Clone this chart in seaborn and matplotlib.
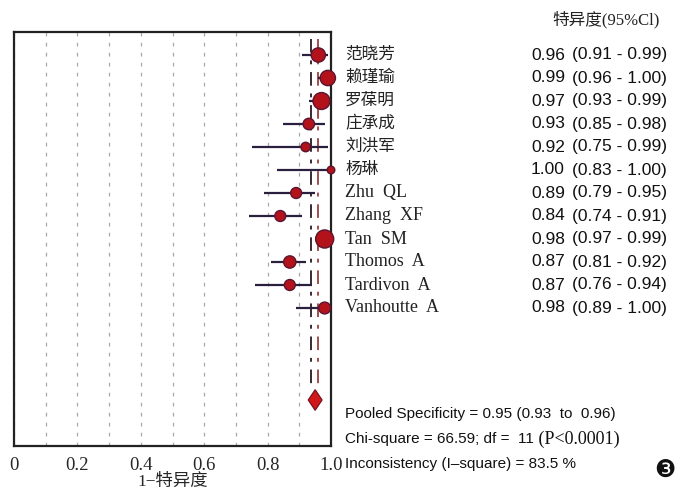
import numpy as np
import pandas as pd
import matplotlib
matplotlib.use("Agg")
import matplotlib.pyplot as plt
import matplotlib.transforms as mtransforms
import seaborn as sns

# ---------------- data ----------------
studies = ["范晓芳", "赖瑾瑜", "罗葆明", "庄承成", "刘洪军", "杨琳",
           "Zhu  QL", "Zhang  XF", "Tan  SM", "Thomos  A", "Tardivon  A", "Vanhoutte  A"]
spec = [0.96, 0.99, 0.97, 0.93, 0.92, 1.00, 0.89, 0.84, 0.98, 0.87, 0.87, 0.98]
ci_low = [0.91, 0.96, 0.93, 0.85, 0.75, 0.83, 0.79, 0.74, 0.97, 0.81, 0.76, 0.89]
ci_high = [0.99, 1.00, 0.99, 0.98, 0.99, 1.00, 0.95, 0.91, 0.99, 0.92, 0.94, 1.00]
spec_txt = ["0.96", "0.99", "0.97", "0.93", "0.92", "1.00", "0.89", "0.84", "0.98", "0.87", "0.87", "0.98"]
ci_txt = ["(0.91 - 0.99)", "(0.96 - 1.00)", "(0.93 - 0.99)", "(0.85 - 0.98)", "(0.75 - 0.99)",
          "(0.83 - 1.00)", "(0.79 - 0.95)", "(0.74 - 0.91)", "(0.97 - 0.99)", "(0.81 - 0.92)",
          "(0.76 - 0.94)", "(0.89 - 1.00)"]
weights = [11.0, 12.5, 15.0, 7.5, 5.5, 4.0, 7.0, 7.0, 17.0, 8.5, 7.0, 8.0]
pooled = 0.95
pooled_low = 0.93
pooled_high = 0.96
xticks = [0, 0.2, 0.4, 0.6, 0.8, 1.0]
xticklabels = ["0", "0.2", "0.4", "0.6", "0.8", "1.0"]
header = "特异度(95%Cl)"
xlabel = "1−特异度"
stats_lines = ["Pooled Specificity = 0.95 (0.93  to  0.96)",
               "Chi-square = 66.59; df =  11",
               "Inconsistency (I–square) = 83.5 %"]
p_text = " (P<0.0001)"

rows = list(range(1, len(studies) + 1))
pooled_row = 16
df = pd.DataFrame({"study": studies, "spec": spec, "lo": ci_low, "hi": ci_high,
                   "row": rows, "w": weights})

# ---------------- style ----------------
sns.set_style("white")
serif_cjk = ["Liberation Serif", "Noto Sans CJK SC"]
narrow = ["Liberation Sans Narrow", "Liberation Sans"]
plt.rcParams["font.family"] = serif_cjk

fig = plt.figure(figsize=(6.85, 4.93), dpi=100)
ax = fig.add_axes([14 / 685, 1 - 446 / 493, (331 - 14) / 685, (446 - 32) / 493])

ax.set_xlim(0, 1.0)
ax.set_ylim(18, 0)

# grid lines every 0.1
ax.set_xticks(xticks)
ax.set_xticklabels(xticklabels, fontsize=13.5, family=serif_cjk)
ax.set_xticks(np.arange(0.1, 1.0, 0.1), minor=True)
ax.grid(True, axis="x", which="both", color="#a8a8a8", linestyle=(0, (3, 5)), linewidth=0.9)
ax.tick_params(axis="x", which="both", length=0, pad=8)
ax.set_yticks([])
for s in ax.spines.values():
    s.set_color("#222222")
    s.set_linewidth(1.6)

# pooled CI dash-dot lines
ax.vlines([pooled_low + 0.008], 0.3, pooled_row - 0.4, colors="#3a2a30",
          linestyles=[(0, (7, 4, 2, 4))], linewidth=1.4, zorder=2)
ax.vlines([pooled_high], 0.3, pooled_row - 0.4, colors="#a05050",
          linestyles=[(0, (7, 4, 2, 4))], linewidth=1.4, zorder=2)

# CI bars
ax.hlines(df["row"], df["lo"], df["hi"], colors="#2a1f3f", linewidth=1.6, zorder=3)

# point estimates
sns.scatterplot(data=df, x="spec", y="row", size="w", sizes=(30, 170), legend=False,
                color="#b3121b", edgecolor="#5a1530", linewidth=1.0, ax=ax, zorder=4,
                clip_on=False)

# pooled diamond (drawn a little wider than the CI, as in the original)
half_w = 0.022
ax.fill([pooled - half_w, pooled, pooled + half_w, pooled],
        [pooled_row, pooled_row - 0.45, pooled_row, pooled_row + 0.45],
        color="#d01818", edgecolor="#6a1020", linewidth=0.8, zorder=5)
ax.set_xlabel(xlabel, fontsize=12.5, family=serif_cjk, labelpad=0)
ax.set_ylabel("")

# ---------------- right-hand text ----------------
trans = mtransforms.blended_transform_factory(fig.transFigure, ax.transData)
for r, name, st, ct in zip(rows, studies, spec_txt, ci_txt):
    fs = 13 if name.isascii() else 12
    fig.text(345 / 685, r, name, transform=trans, fontsize=fs, family=serif_cjk,
             va="center", ha="left", color="#222222")
    fig.text(531 / 685, r, st, transform=trans, fontsize=12.5, family=narrow,
             va="center", ha="left", color="#111111")
    fig.text(572 / 685, r, ct, transform=trans, fontsize=12.5, family=narrow,
             va="center", ha="left", color="#111111")

fig.text(552 / 685, 1 - 20 / 493, header, fontsize=12, family=serif_cjk,
         va="center", ha="left", color="#222222")

ys = [414, 439, 464]
texts = []
for y, line in zip(ys, stats_lines):
    texts.append(fig.text(345 / 685, 1 - y / 493, line, fontsize=11, family=narrow,
                          va="center", ha="left", color="#111111"))
fig.canvas.draw()
bb = texts[1].get_window_extent()
fig.text(bb.x1 / fig.bbox.width, 1 - 439 / 493, p_text, fontsize=13, family=serif_cjk,
         va="center", ha="left", color="#111111")

fig.text(665 / 685, 1 - 470 / 493, "❸", fontsize=17, family=["DejaVu Sans"],
         va="center", ha="center", color="#111111")

fig.savefig("out.png", dpi=100)
